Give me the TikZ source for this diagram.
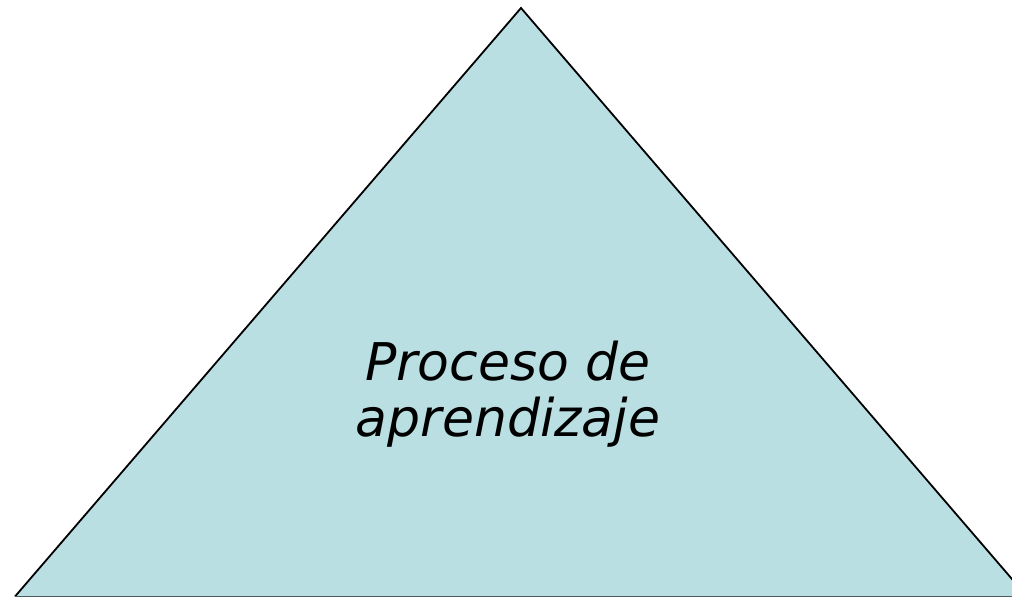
\documentclass[tikz,border=0pt]{standalone}
\usepackage{fontspec}
\setmainfont{DejaVu Sans}
\definecolor{tri}{HTML}{BADFE3}
\definecolor{basecol}{HTML}{4A5C5E}
\tikzset{label text/.style={font=\itshape\fontsize{52}{56}\selectfont, align=center, text=black, inner sep=0pt}}
\begin{document}
\begin{tikzpicture}[x=1pt,y=-1pt]
\useasboundingbox (0,0) rectangle (1012,597);
\begin{scope}
\clip (0,0) rectangle (1012,597);
\coordinate (apex) at (521,8);
\coordinate (bl) at (15,596.5);
\coordinate (br) at (1027,596.5);
\fill[tri] (apex) -- (bl) -- (br) -- cycle;
\draw[black, line width=1.8pt, line join=miter] (bl) -- (apex) -- (br);
\draw[basecol, line width=1.8pt] (bl) -- (br);
\end{scope}
\node[label text] (t) at (508,394) {Proceso de\\aprendizaje};
\end{tikzpicture}
\end{document}
